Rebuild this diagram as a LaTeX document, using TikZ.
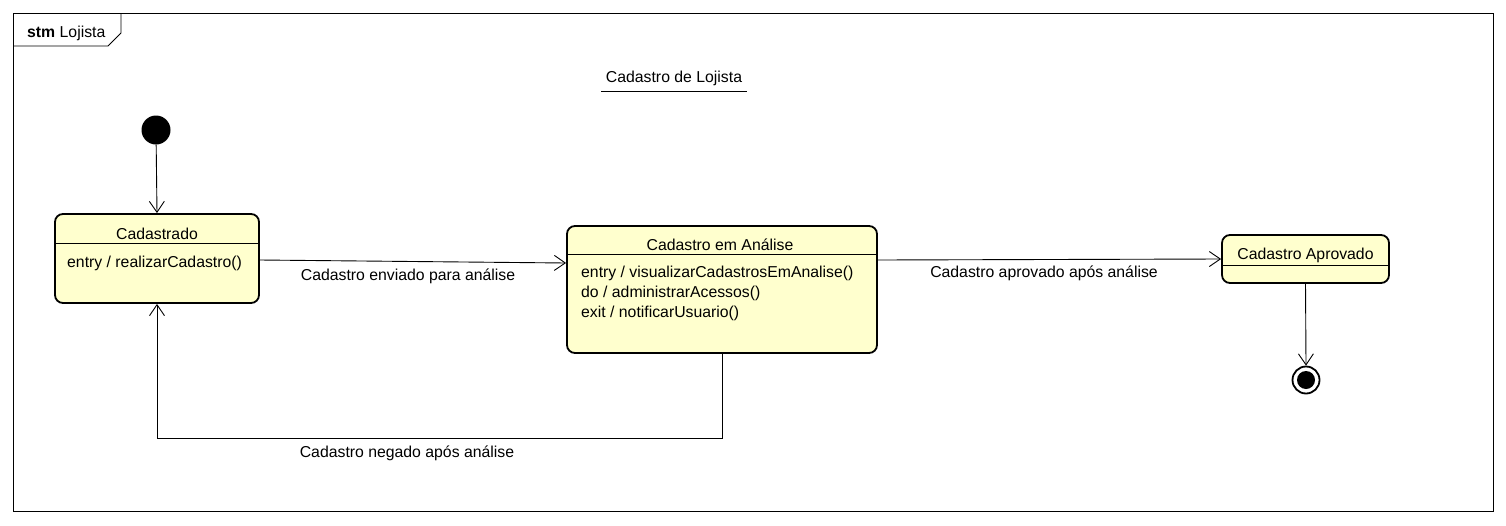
\documentclass[tikz,border=0pt]{standalone}
\usepackage{fontspec}
\setmainfont{Liberation Sans}
\usetikzlibrary{arrows.meta}
\definecolor{statefill}{RGB}{255,255,206}
\tikzset{
  statebox/.style={draw, line width=1.8pt, fill=statefill, rounded corners=8pt, inner sep=0pt},
  trans/.style={draw, line width=0.9pt, -{Straight Barb[length=11pt,width=15pt,line width=0.9pt]}},
  lbl/.style={font=\fontsize{15.8}{19}\selectfont, inner sep=0pt, anchor=center},
  sep/.style={line width=0.9pt},
}
\begin{document}
\begin{tikzpicture}[x=1pt,y=-1pt]
\useasboundingbox (0,0) rectangle (1506,525);
\fill[white] (0,0) rectangle (1506,525);
% frame
\draw[line width=0.9pt] (13,13) rectangle (1493,511);
\draw[line width=0.9pt] (13,46) -- (108,46) -- (121,33) -- (121,13);
\node[lbl, anchor=west] (frameLabel) at (27,33) {\textbf{stm} Lojista};
% title
\node[lbl] (title) at (674,78) {Cadastro de Lojista};
\draw[line width=0.9pt] (601,91) -- (747,91);
% initial state
\node[circle, fill=black, minimum size=29pt, inner sep=0pt] (init) at (156,130) {};
% states
\node[statebox, minimum width=204pt, minimum height=89pt] (cad) at (157,258.5) {};
\draw[sep] ([yshift=-30pt]cad.north west) -- ([yshift=-30pt]cad.north east);
\node[lbl] (cadT) at (157,234) {Cadastrado};
\node[lbl, anchor=west] (cadE) at (67,263.5) {entry / realizarCadastro()};

\node[statebox, minimum width=310pt, minimum height=127pt] (ana) at (722,289.5) {};
\draw[sep] ([yshift=-29pt]ana.north west) -- ([yshift=-29pt]ana.north east);
\node[lbl] (anaT) at (720,244.5) {Cadastro em Análise};
\node[lbl, anchor=west] (anaE) at (581,273.5) {entry / visualizarCadastrosEmAnalise()};
\node[lbl, anchor=west] (anaD) at (581,293.5) {do / administrarAcessos()};
\node[lbl, anchor=west] (anaX) at (581,313.5) {exit / notificarUsuario()};

\node[statebox, minimum width=167pt, minimum height=48pt] (apr) at (1305.5,259) {};
\draw[sep] ([yshift=-31pt]apr.north west) -- ([yshift=-31pt]apr.north east);
\node[lbl] (aprT) at (1305.5,255) {Cadastro Aprovado};
% final state
\node[circle, draw, line width=1.8pt, fill=white, minimum size=27pt, inner sep=0pt] (fin) at (1306,380) {};
\node[circle, fill=black, minimum size=18pt, inner sep=0pt] (finIn) at (1306,380) {};
% transitions
\draw[trans] (init) -- (cad.north);
\draw[trans] ([yshift=-1.5pt]cad.east) -- ([yshift=26.5pt]ana.west);
\node[lbl] (l1) at (408,276.5) {Cadastro enviado para análise};
\draw[trans] ([yshift=29.5pt]ana.east) -- (apr.west);
\node[lbl] (l2) at (1044,273.5) {Cadastro aprovado após análise};
\draw[trans] (apr.south) -- (fin.north);
\coordinate (retc) at (157,438);
\draw[trans] (ana.south) |- (retc) -- (cad.south);
\node[lbl] (l3) at (407,453.5) {Cadastro negado após análise};
\end{tikzpicture}
\end{document}
